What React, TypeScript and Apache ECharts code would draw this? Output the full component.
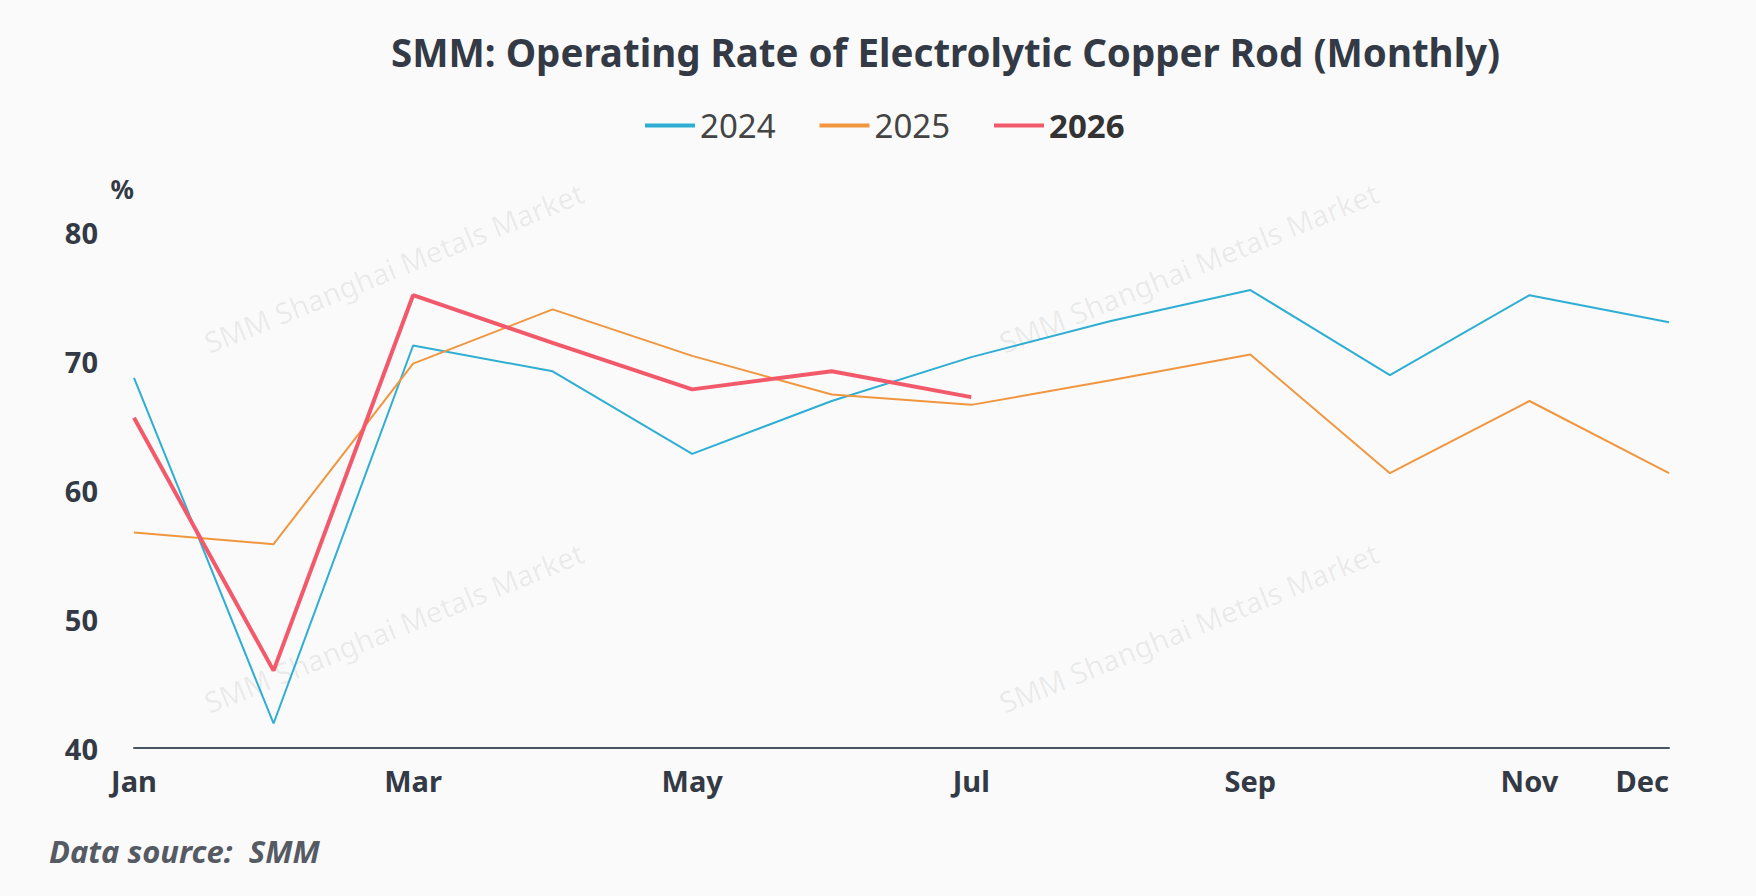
import * as echarts from 'echarts';
import { useEffect, useRef } from 'react';

const months = ['Jan', 'Feb', 'Mar', 'Apr', 'May', 'Jun', 'Jul', 'Aug', 'Sep', 'Oct', 'Nov', 'Dec'];
const shownLabels = [0, 2, 4, 6, 8, 10, 11];
const rate2024 = [68.7, 41.9, 71.2, 69.2, 62.8, 66.9, 70.3, 73.1, 75.5, 68.9, 75.1, 73.0];
const rate2025 = [56.7, 55.8, 69.8, 74.0, 70.4, 67.4, 66.6, 68.5, 70.5, 61.3, 66.9, 61.3];
const rate2026 = [65.6, 46.0, 75.1, 71.4, 67.8, 69.2, 67.2];

const watermark = 'SMM Shanghai Metals Market';
const markPositions = [
    [200, 330],
    [995, 330],
    [200, 690],
    [995, 690],
];

const App = () => {
    const chartRef = useRef<HTMLDivElement>(null);

    useEffect(() => {
        document.body.style.margin = '0';
        if (!chartRef.current) return;
        const chart = echarts.init(chartRef.current, null, { renderer: 'svg' });

        chart.setOption({
            animation: false,
            backgroundColor: '#fafafa',
            textStyle: { fontFamily: 'Noto Sans' },
            title: {
                text: 'SMM: Operating Rate of Electrolytic Copper Rod (Monthly)',
                left: 386,
                top: 27,
                textStyle: { fontSize: 38.5, fontWeight: 'bold', color: '#333a45' },
            },
            legend: {
                top: 104,
                left: 640,
                itemWidth: 50,
                itemHeight: 4,
                itemGap: 44,
                icon: 'rect',
                textStyle: { fontSize: 33, color: '#444' },
                data: [
                    { name: '2024' },
                    { name: '2025' },
                    { name: '2026', textStyle: { fontWeight: 'bold', color: '#333' } },
                ],
            },
            grid: { left: 134, right: 87, top: 232, bottom: 148 },
            graphic: [
                ...markPositions.map(([x, y]) => ({
                    type: 'text',
                    x,
                    y,
                    rotation: (22 * Math.PI) / 180,
                    style: { text: watermark, fontSize: 29, fill: 'rgba(0,0,0,0.07)', fontFamily: 'Noto Sans' },
                    silent: true,
                })),
                {
                    type: 'text',
                    left: 49,
                    top: 835,
                    style: {
                        text: 'Data source:  SMM',
                        fontSize: 31,
                        fontStyle: 'italic',
                        fontWeight: 'bold',
                        fill: '#555a63',
                        fontFamily: 'Noto Sans',
                    },
                },
            ],
            xAxis: {
                type: 'category',
                data: months,
                boundaryGap: false,
                axisLine: { lineStyle: { color: '#4a5563', width: 2 } },
                axisTick: { show: false },
                axisLabel: {
                    interval: (i: number) => shownLabels.includes(i),
                    alignMaxLabel: 'right',
                    fontSize: 29,
                    fontWeight: 'bold',
                    color: '#333a45',
                    margin: 18,
                },
            },
            yAxis: {
                type: 'value',
                min: 40,
                max: 80,
                interval: 10,
                name: '%',
                nameLocation: 'end',
                nameGap: 30,
                nameTextStyle: { fontSize: 26, fontWeight: 'bold', color: '#333a45', align: 'right' },
                splitLine: { show: false },
                axisLabel: { fontSize: 29, fontWeight: 'bold', color: '#333a45', margin: 36 },
            },
            series: [
                { name: '2024', type: 'line', data: rate2024, showSymbol: false, color: '#2eaed3', lineStyle: { width: 2 } },
                { name: '2025', type: 'line', data: rate2025, showSymbol: false, color: '#f0963f', lineStyle: { width: 2 } },
                { name: '2026', type: 'line', data: rate2026, showSymbol: false, color: '#f25a6b', lineStyle: { width: 4 } },
            ],
        });

        const onResize = () => chart.resize();
        window.addEventListener('resize', onResize);
        return () => {
            window.removeEventListener('resize', onResize);
            chart.dispose();
        };
    }, []);

    return <div ref={chartRef} style={{ width: 1756, height: 896 }} />;
};

export default App;
